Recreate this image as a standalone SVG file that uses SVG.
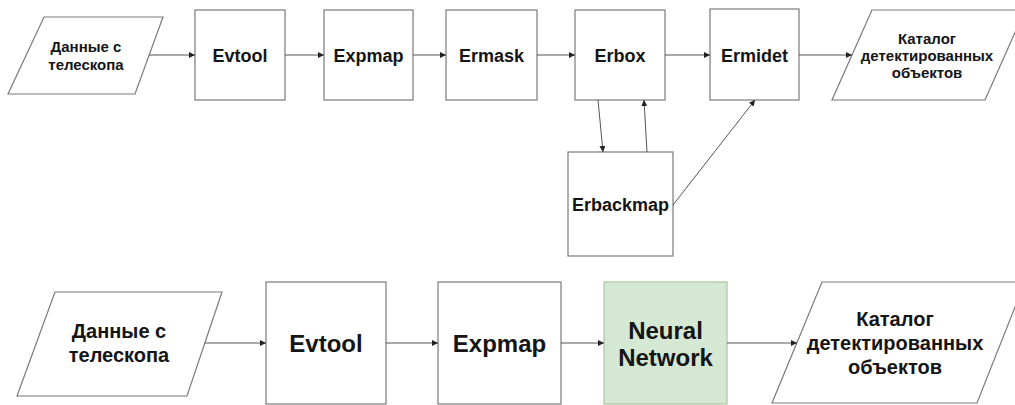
<svg xmlns="http://www.w3.org/2000/svg" width="1015" height="405" viewBox="0 0 1015 405">
  <style>
    .box { fill: #ffffff; stroke: #7a7a7a; stroke-width: 1.2; }
    .nn { fill: #d5e8d4; stroke: #a8c99b; stroke-width: 1.2; }
    .t { font-family: "Liberation Sans", Arial, sans-serif; font-weight: bold; fill: #151515; text-anchor: middle; }
    .s18 { font-size: 18px; }
    .s15 { font-size: 15px; }
    .s24 { font-size: 24px; }
    .s20 { font-size: 20px; }
    .c { fill: none; stroke: #555555; stroke-width: 1; }
  </style>
  <defs>
    <marker id="arr" viewBox="0 0 8 8" refX="8" refY="4" markerWidth="6" markerHeight="6" markerUnits="userSpaceOnUse" orient="auto">
      <path d="M0,0 L8,4 L0,8 Z" fill="#222222"/>
    </marker>
  </defs>
  <rect width="1015" height="405" fill="#ffffff"/>

  <!-- Top row -->
  <g id="top-input">
    <polygon class="box" points="44,17 163,17 135,94 8,94"/>
    <text class="t s15" x="86" y="52">Данные с</text>
    <text class="t s15" x="86" y="70">телескопа</text>
  </g>
  <g id="top-evtool">
    <rect class="box" x="195" y="10" width="90" height="90"/>
    <text class="t s18" x="240" y="61.5">Evtool</text>
  </g>
  <g id="top-expmap">
    <rect class="box" x="324" y="10" width="89" height="90"/>
    <text class="t s18" x="368.5" y="61.5">Expmap</text>
  </g>
  <g id="top-ermask">
    <rect class="box" x="446" y="10" width="91" height="90"/>
    <text class="t s18" x="491.5" y="61.5">Ermask</text>
  </g>
  <g id="top-erbox">
    <rect class="box" x="575" y="10" width="90" height="90"/>
    <text class="t s18" x="620" y="61.5">Erbox</text>
  </g>
  <g id="top-ermidet">
    <rect class="box" x="710" y="9" width="89" height="91"/>
    <text class="t s18" x="754.5" y="61.5">Ermidet</text>
  </g>
  <g id="top-erbackmap">
    <rect class="box" x="568" y="152" width="105" height="104"/>
    <text class="t s18" x="620.5" y="210.5">Erbackmap</text>
  </g>
  <g id="top-output">
    <polygon class="box" points="872,10 1025,10 985,100 832,100"/>
    <text class="t s15" x="927" y="43.5">Каталог</text>
    <text class="t s15" x="927" y="60.5">детектированных</text>
    <text class="t s15" x="927" y="77.5">объектов</text>
  </g>

  <!-- Bottom row -->
  <g id="bottom-input">
    <polygon class="box" points="55,292 222,292 187,396 17,396"/>
    <text class="t s20" x="119" y="338">Данные с</text>
    <text class="t s20" x="119" y="362">телескопа</text>
  </g>
  <g id="bottom-evtool">
    <rect class="box" x="266" y="282" width="120" height="122"/>
    <text class="t s24" x="326" y="352">Evtool</text>
  </g>
  <g id="bottom-expmap">
    <rect class="box" x="438" y="282" width="123" height="122"/>
    <text class="t s24" x="499.5" y="352">Expmap</text>
  </g>
  <g id="bottom-nn">
    <rect class="nn" x="604" y="282" width="123" height="122"/>
    <text class="t s24" x="665.5" y="339">Neural</text>
    <text class="t s24" x="665.5" y="366">Network</text>
  </g>
  <g id="bottom-output">
    <polygon class="box" points="822,282 1025,282 977,403 772,403"/>
    <text class="t s20" x="895" y="326">Каталог</text>
    <text class="t s20" x="895" y="350">детектированных</text>
    <text class="t s20" x="895" y="374">объектов</text>
  </g>

  <!-- Connectors -->
  <g id="connectors">
    <line class="c" x1="149" y1="55" x2="195" y2="55" marker-end="url(#arr)"/>
    <line class="c" x1="285" y1="55" x2="324" y2="55" marker-end="url(#arr)"/>
    <line class="c" x1="413" y1="55" x2="446" y2="55" marker-end="url(#arr)"/>
    <line class="c" x1="537" y1="55" x2="575" y2="55" marker-end="url(#arr)"/>
    <line class="c" x1="665" y1="55" x2="710" y2="55" marker-end="url(#arr)"/>
    <line class="c" x1="799" y1="55" x2="852" y2="55" marker-end="url(#arr)"/>
    <line class="c" x1="598" y1="100" x2="603" y2="152" marker-end="url(#arr)"/>
    <line class="c" x1="647" y1="152" x2="644" y2="100" marker-end="url(#arr)"/>
    <line class="c" x1="673" y1="205" x2="755" y2="100" marker-end="url(#arr)"/>

    <line class="c" x1="205" y1="343" x2="266" y2="343" marker-end="url(#arr)"/>
    <line class="c" x1="386" y1="343" x2="438" y2="343" marker-end="url(#arr)"/>
    <line class="c" x1="561" y1="343" x2="604" y2="343" marker-end="url(#arr)"/>
    <line class="c" x1="727" y1="343" x2="797" y2="343" marker-end="url(#arr)"/>
  </g>
</svg>
